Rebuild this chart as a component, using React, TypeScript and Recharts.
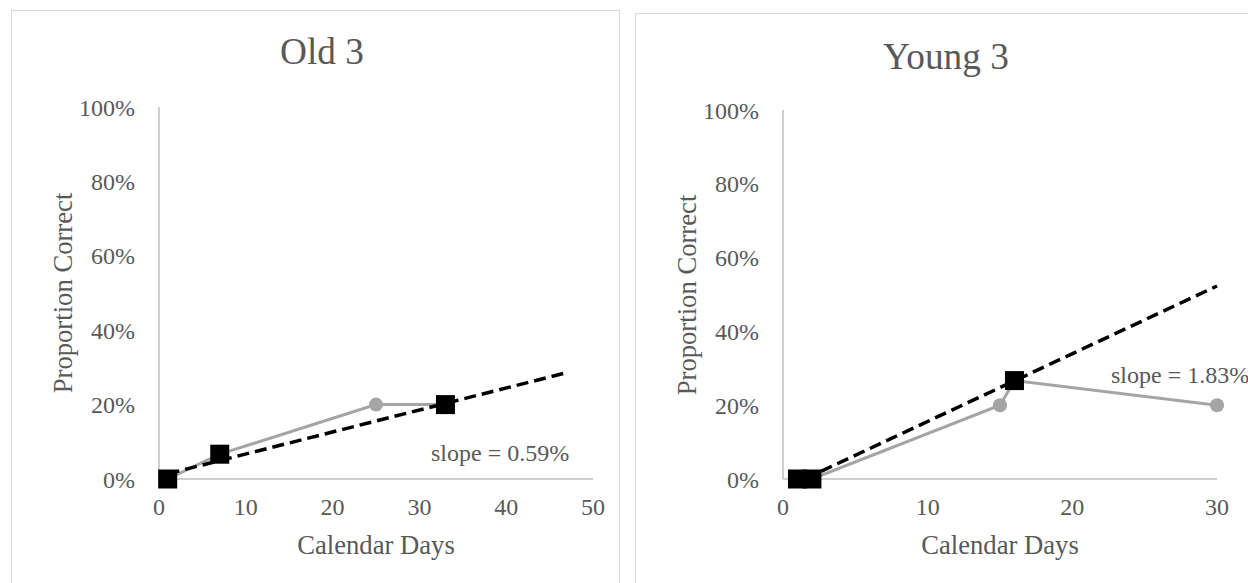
import React from "react";
import { LineChart, Line, XAxis, YAxis } from "recharts";

// ---------- data ----------
const oldDays = [1, 7, 25, 33];
const oldValues = [0, 0.0667, 0.2, 0.2];
const oldSquareDays = [1, 7, 33];
const oldSquareValues = [0, 0.0667, 0.2];
const oldTrendDays = [1, 47];
const oldTrendValues = [0.014, 0.286];
const oldXTicks = [0, 10, 20, 30, 40, 50];

const youngDays = [1, 2, 15, 16, 30];
const youngValues = [0, 0, 0.2, 0.2667, 0.2];
const youngSquareDays = [1, 2, 16];
const youngSquareValues = [0, 0, 0.2667];
const youngTrendDays = [1.5, 30];
const youngTrendValues = [0, 0.523];
const youngXTicks = [0, 10, 20, 30];

const yTicks = [0, 0.2, 0.4, 0.6, 0.8, 1];

const titles = ["Old 3", "Young 3"];
const slopeLabels = ["slope = 0.59%", "slope = 1.83%"];
const xTitle = "Calendar Days";
const yTitle = "Proportion Correct";

// ---------- styles ----------
const FONT = '"Liberation Serif", "Times New Roman", serif';
const TEXT = "#595959";
const GRAY = "#a5a5a5";
const AXIS = "#bfbfbf";
const BORDER = "#d9d9d9";

const zip = (xs: number[], ys: number[]) => xs.map((x, i) => ({ x, y: ys[i] }));

const renderCircle = (props: any) => {
  const { cx, cy, index } = props;
  return <circle key={`c-${index}`} cx={cx} cy={cy} r={7} fill={GRAY} stroke="none" />;
};

const renderSquare = (props: any) => {
  const { cx, cy, index } = props;
  return <rect key={`s-${index}`} x={cx - 9.5} y={cy - 9.5} width={19} height={19} fill="#000" stroke="none" />;
};

type PanelProps = {
  left: number;
  top: number;
  xMax: number;
  xTicks: number[];
  main: { x: number; y: number }[];
  squares: { x: number; y: number }[];
  trend: { x: number; y: number }[];
};

function Panel({ left, top, xMax, xTicks, main, squares, trend }: PanelProps) {
  return (
    <div style={{ position: "absolute", left, top: 0 }}>
      <LineChart width={624} height={583} margin={{ top, right: 31, bottom: 64, left: 99 }}>
        <XAxis
          type="number"
          dataKey="x"
          domain={[0, xMax]}
          ticks={xTicks}
          interval={0}
          tickLine={false}
          tickSize={0}
          tickMargin={19}
          height={40}
          axisLine={{ stroke: AXIS, strokeWidth: 1.5 }}
          tick={{ fontSize: 24, fill: TEXT, fontFamily: FONT }}
        />
        <YAxis
          type="number"
          dataKey="y"
          domain={[0, 1]}
          ticks={yTicks}
          interval={0}
          width={60}
          tickLine={false}
          tickSize={0}
          tickMargin={24}
          axisLine={{ stroke: AXIS, strokeWidth: 1.5 }}
          tickFormatter={(v: number) => `${Math.round(v * 100)}%`}
          tick={{ fontSize: 24, fill: TEXT, fontFamily: FONT }}
        />
        <Line
          data={main}
          dataKey="y"
          type="linear"
          stroke={GRAY}
          strokeWidth={3}
          dot={renderCircle}
          activeDot={false}
          isAnimationActive={false}
        />
        <Line
          data={trend}
          dataKey="y"
          type="linear"
          stroke="#000"
          strokeWidth={3.5}
          strokeDasharray="12 6"
          dot={false}
          activeDot={false}
          isAnimationActive={false}
        />
        <Line
          data={squares}
          dataKey="y"
          type="linear"
          stroke="none"
          strokeWidth={0}
          dot={renderSquare}
          activeDot={false}
          isAnimationActive={false}
        />
      </LineChart>
    </div>
  );
}

export default function App() {
  return (
    <div
      style={{
        position: "fixed",
        left: 0,
        top: 0,
        width: 1248,
        height: 583,
        overflow: "hidden",
        background: "#fff",
        fontFamily: FONT,
      }}
    >
      <svg
        width={1248}
        height={583}
        style={{ position: "absolute", left: 0, top: 0, pointerEvents: "none" }}
        fontFamily={FONT}
      >
        <rect x={11.5} y={10.5} width={608} height={620} fill="none" stroke={BORDER} strokeWidth={1} />
        <rect x={635.5} y={13.5} width={640} height={620} fill="none" stroke={BORDER} strokeWidth={1} />

        <text x={322} y={64} textAnchor="middle" fontSize={37.33} fill={TEXT}>{titles[0]}</text>
        <text x={946} y={69} textAnchor="middle" fontSize={37.33} fill={TEXT}>{titles[1]}</text>

        <text transform="translate(72,293) rotate(-90)" textAnchor="middle" fontSize={26.67} fill={TEXT}>{yTitle}</text>
        <text transform="translate(696,295) rotate(-90)" textAnchor="middle" fontSize={26.67} fill={TEXT}>{yTitle}</text>

        <text x={376} y={554} textAnchor="middle" fontSize={26.67} fill={TEXT}>{xTitle}</text>
        <text x={1000} y={554} textAnchor="middle" fontSize={26.67} fill={TEXT}>{xTitle}</text>

        <text x={431} y={461} fontSize={24} fill={TEXT}>{slopeLabels[0]}</text>
        <text x={1111} y={383} fontSize={24} fill={TEXT}>{slopeLabels[1]}</text>
      </svg>

      <Panel
        left={0}
        top={107}
        xMax={50}
        xTicks={oldXTicks}
        main={zip(oldDays, oldValues)}
        squares={zip(oldSquareDays, oldSquareValues)}
        trend={zip(oldTrendDays, oldTrendValues)}
      />
      <Panel
        left={624}
        top={110}
        xMax={30}
        xTicks={youngXTicks}
        main={zip(youngDays, youngValues)}
        squares={zip(youngSquareDays, youngSquareValues)}
        trend={zip(youngTrendDays, youngTrendValues)}
      />
    </div>
  );
}
